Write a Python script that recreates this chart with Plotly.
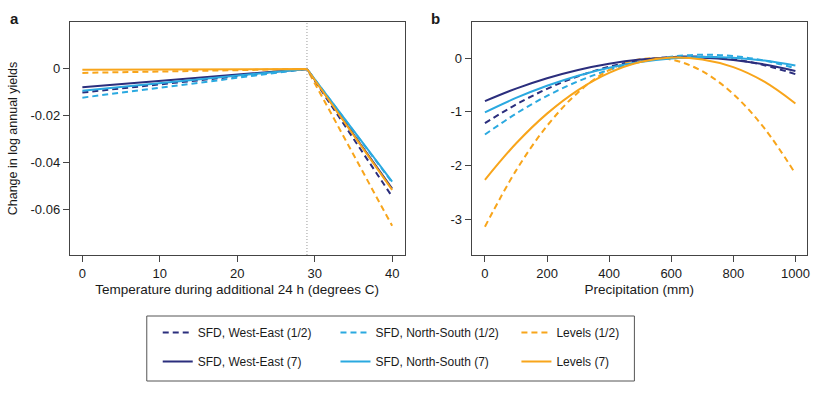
import plotly.graph_objects as go

# ---------------- data ----------------
series_names = ["SFD, West-East (1/2)", "SFD, North-South (1/2)", "Levels (1/2)",
                "SFD, West-East (7)", "SFD, North-South (7)", "Levels (7)"]

temp = [0, 29, 40]
temp_we_half = [-0.0101, 0.0, -0.0547]
temp_ns_half = [-0.0123, 0.0, -0.0486]
temp_lv_half = [-0.0017, 0.0, -0.0672]
temp_we_7 = [-0.0079, 0.0, -0.0512]
temp_ns_7 = [-0.0093, 0.0, -0.0483]
temp_lv_7 = [-0.0004, 0.0, -0.0518]

precip = [0, 100, 200, 300, 400, 500, 600, 700, 800, 900, 1000]
prec_we_half = [-1.210, -0.863, -0.572, -0.339, -0.162, -0.043, 0.020, 0.025, -0.026, -0.134, -0.299]
prec_ns_half = [-1.420, -1.032, -0.703, -0.432, -0.221, -0.069, 0.025, 0.060, 0.036, -0.047, -0.189]
prec_lv_half = [-3.130, -2.090, -1.259, -0.638, -0.226, -0.023, -0.029, -0.245, -0.670, -1.303, -2.146]
prec_we_7 = [-0.800, -0.568, -0.375, -0.221, -0.106, -0.030, 0.006, 0.004, -0.038, -0.119, -0.240]
prec_ns_7 = [-1.008, -0.741, -0.515, -0.328, -0.181, -0.074, -0.007, 0.019, 0.006, -0.047, -0.140]
prec_lv_7 = [-2.260, -1.587, -1.032, -0.595, -0.276, -0.075, 0.008, -0.028, -0.170, -0.440, -0.843]

xa_ticks = [0, 10, 20, 30, 40]
ya_ticks = [0, -0.02, -0.04, -0.06]
ya_ticktext = ["0", "-0.02", "-0.04", "-0.06"]
xb_ticks = [0, 200, 400, 600, 800, 1000]
yb_ticks = [0, -1, -2, -3]
yb_ticktext = ["0", "-1", "-2", "-3"]
kink_temp = 29

# ---------------- styles ----------------
NAVY = "#2b2e7d"
CYAN = "#2aa9e0"
ORANGE = "#f8a51b"
FONT = "Liberation Sans, Arial, sans-serif"
DASH = "6px,4px"

temp_series = [temp_we_half, temp_ns_half, temp_lv_half, temp_we_7, temp_ns_7, temp_lv_7]
prec_series = [prec_we_half, prec_ns_half, prec_lv_half, prec_we_7, prec_ns_7, prec_lv_7]
colors = [NAVY, CYAN, ORANGE, NAVY, CYAN, ORANGE]
dashes = [DASH, DASH, DASH, "solid", "solid", "solid"]
legends = ["legend", "legend2", "legend3", "legend", "legend2", "legend3"]

fig = go.Figure()
for i in range(6):
    fig.add_trace(go.Scatter(
        x=temp, y=temp_series[i], mode="lines", name=series_names[i],
        line=dict(color=colors[i], width=2, dash=dashes[i]),
        legend=legends[i], legendgroup=series_names[i], showlegend=True,
        xaxis="x", yaxis="y"))
for i in range(6):
    fig.add_trace(go.Scatter(
        x=precip, y=prec_series[i], mode="lines", name=series_names[i],
        line=dict(color=colors[i], width=2, dash=dashes[i], shape="spline", smoothing=1),
        legendgroup=series_names[i], showlegend=False,
        xaxis="x2", yaxis="y2"))

W, H = 830, 394
def px(x):
    return x / W
def py(y):
    return 1 - y / H

axis_common = dict(showgrid=False, zeroline=False, showline=True, mirror=True,
                   linecolor="#444", linewidth=1, ticks="outside", ticklen=6,
                   tickcolor="#444", tickfont=dict(family=FONT, size=13, color="#1a1a1a"))

fig.update_layout(
    width=W, height=H,
    margin=dict(l=0, r=0, t=0, b=0),
    paper_bgcolor="white", plot_bgcolor="white",
    font=dict(family=FONT, size=12, color="#1a1a1a"),
    xaxis=dict(domain=[px(70), px(406)], range=[-1.63, 41.6], tickvals=xa_ticks,
               anchor="y",
               title=dict(text="Temperature during additional 24 h (degrees C)",
                          font=dict(size=13.5), standoff=4),
               **axis_common),
    yaxis=dict(domain=[py(255), py(22)], range=[-0.0797, 0.0201], tickvals=ya_ticks,
               ticktext=ya_ticktext, anchor="x",
               title=dict(text="Change in log annual yields", font=dict(size=12.5), standoff=10),
               **axis_common),
    xaxis2=dict(domain=[px(473.3), px(810)], range=[-43, 1037.6], tickvals=xb_ticks,
                anchor="y2",
                title=dict(text="Precipitation (mm)", font=dict(size=13.5), standoff=4),
                **axis_common),
    yaxis2=dict(domain=[py(255), py(22)], range=[-3.655, 0.668], tickvals=yb_ticks,
                ticktext=yb_ticktext, anchor="x2", **axis_common),
    legend=dict(x=px(158.3), y=py(318), xanchor="left", yanchor="top",
                bgcolor="rgba(0,0,0,0)", borderwidth=0, tracegroupgap=10,
                font=dict(family=FONT, size=12, color="#1a1a1a")),
    legend2=dict(x=px(336.7), y=py(318), xanchor="left", yanchor="top",
                 bgcolor="rgba(0,0,0,0)", borderwidth=0, tracegroupgap=10,
                 font=dict(family=FONT, size=12, color="#1a1a1a")),
    legend3=dict(x=px(518.3), y=py(318), xanchor="left", yanchor="top",
                 bgcolor="rgba(0,0,0,0)", borderwidth=0, tracegroupgap=10,
                 font=dict(family=FONT, size=12, color="#1a1a1a")),
)

# vertical dotted line at the temperature kink
fig.add_shape(type="line", xref="x", yref="y domain", x0=kink_temp, x1=kink_temp, y0=0, y1=1,
              line=dict(color="#9a9a9a", width=1, dash="1px,2px"))

# outer legend box
fig.add_shape(type="rect", xref="paper", yref="paper",
              x0=px(147.3), x1=px(636.7), y0=py(381), y1=py(316),
              line=dict(color="#555", width=1), fillcolor="rgba(0,0,0,0)")

# panel labels
fig.add_annotation(text="<b>a</b>", xref="paper", yref="paper", x=px(15), y=py(18),
                   xanchor="center", yanchor="middle", showarrow=False,
                   font=dict(family=FONT, size=15, color="#1a1a1a"))
fig.add_annotation(text="<b>b</b>", xref="paper", yref="paper", x=px(437), y=py(18),
                   xanchor="center", yanchor="middle", showarrow=False,
                   font=dict(family=FONT, size=15, color="#1a1a1a"))

fig.write_html("out.html", config={"displayModeBar": False},
               post_script="document.body.style.margin='0px';document.body.style.overflow='hidden';")
